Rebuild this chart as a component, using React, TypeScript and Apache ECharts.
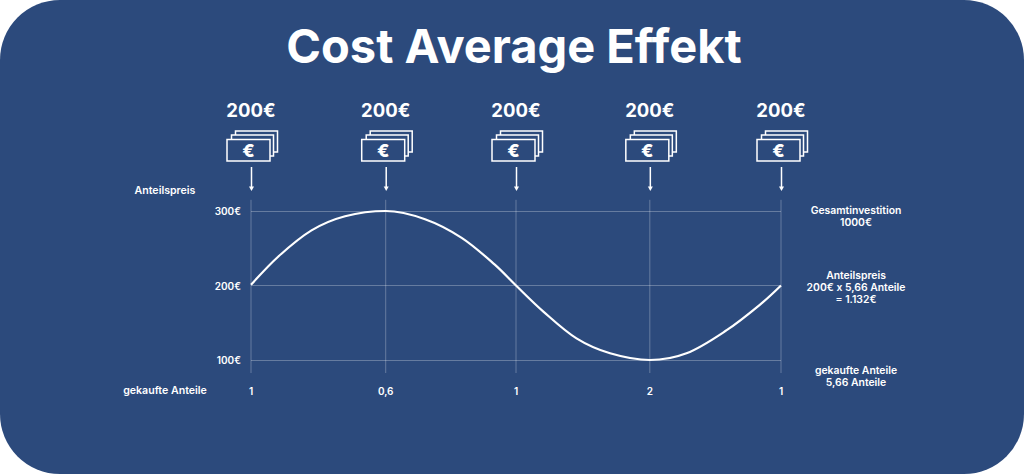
import React, { useEffect, useRef } from "react";
import * as echarts from "echarts";

const TITLE = "Cost Average Effekt";
const INVEST_LABEL = "200€";
const buyMonths = [0, 3.05, 6, 9.03, 12];
const sharesBought = ["1", "0,6", "1", "2", "1"];
const priceTicks = [100, 200, 300];
const curveMonths = [0, 0.62, 1.37, 2.13, 3.05, 3.94, 4.77, 5.52, 6, 6.62, 7.37, 8.13, 9.03, 9.86, 10.77, 11.52, 12];
const curvePrices = [201, 239, 274, 293, 300, 289, 264, 228, 200, 165, 129, 109, 100, 109, 140, 174, 200];
const guideExtent = [315, 82.5];
const leftNotes = [
  { text: "Anteilspreis", x: 165, y: 190 },
  { text: "gekaufte Anteile", x: 165, y: 390 },
];
const rightNotes = [
  { text: "Gesamtinvestition\n1000€", y: 216 },
  { text: "Anteilspreis\n200€ x 5,66 Anteile\n= 1.132€", y: 287 },
  { text: "gekaufte Anteile\n5,66 Anteile", y: 376 },
];

const BG = "#2C4A7C";
const FONT = "Inter";
const GRID = "rgba(255,255,255,0.28)";

export default function App() {
  const ref = useRef<HTMLDivElement>(null);
  useEffect(() => {
    document.body.style.margin = "0";
    const chart = echarts.init(ref.current!, undefined, { renderer: "svg" });
    const pairs = curveMonths.map((m, i) => [m, curvePrices[i]]);
    chart.setOption({
      animation: false,
      backgroundColor: "#ffffff",
      grid: { left: 251, top: 211, width: 530, height: 149, containLabel: false },
      xAxis: {
        type: "value",
        min: 0,
        max: 12,
        axisLine: { show: false },
        axisTick: { show: false },
        splitLine: { show: false },
        axisLabel: {
          customValues: buyMonths,
          color: "#fff",
          fontFamily: FONT,
          fontWeight: 600,
          fontSize: 10,
          margin: 26,
          formatter: (v: number) => sharesBought[buyMonths.indexOf(v)] ?? "",
        },
      },
      yAxis: {
        type: "value",
        min: 100,
        max: 300,
        interval: 100,
        axisLine: { show: false },
        axisTick: { show: false },
        splitLine: { show: true, lineStyle: { color: GRID, width: 1 } },
        axisLabel: {
          color: "#fff",
          fontFamily: FONT,
          fontWeight: 600,
          fontSize: 10,
          margin: 10,
          formatter: (v: number) => (priceTicks.includes(v) ? `${v}€` : ""),
        },
      },
      graphic: [
        { type: "rect", z: -10, silent: true, shape: { x: 0, y: 0, width: 1024, height: 474, r: 60 }, style: { fill: BG } },
        {
          type: "text", x: 514, y: 45, z: 10,
          style: { text: TITLE, fill: "#fff", font: `700 47px ${FONT}`, textAlign: "center", textVerticalAlign: "middle" },
        },
        ...leftNotes.map((n) => ({
          type: "text", x: n.x, y: n.y, z: 10,
          style: { text: n.text, fill: "#fff", font: `600 10.6px ${FONT}`, textAlign: "center", textVerticalAlign: "middle" },
        })),
        ...rightNotes.map((n) => ({
          type: "text", x: 856, y: n.y, z: 10,
          style: { text: n.text, fill: "#fff", font: `600 10.4px ${FONT}`, lineHeight: 12, textAlign: "center", textVerticalAlign: "middle" },
        })),
      ],
      series: [
        {
          type: "custom",
          data: buyMonths.map((m) => [m]),
          clip: false,
          silent: true,
          z: 1,
          renderItem: (_p: any, api: any) => {
            const top = api.coord([api.value(0), guideExtent[0]]);
            const bottom = api.coord([api.value(0), guideExtent[1]]);
            return {
              type: "line",
              shape: { x1: top[0], y1: top[1], x2: bottom[0], y2: bottom[1] },
              style: { stroke: GRID, lineWidth: 1 },
            };
          },
        },
        {
          type: "line",
          data: pairs,
          smooth: 0.33,
          symbol: "none",
          clip: false,
          z: 5,
          lineStyle: { color: "#fff", width: 2.2 },
        },
        {
          type: "custom",
          data: buyMonths.map((m) => [m, 300]),
          clip: false,
          silent: true,
          z: 6,
          renderItem: (_p: any, api: any) => {
            const x = api.coord([api.value(0), api.value(1)])[0];
            const stroke = { stroke: "#fff", lineWidth: 1.5, fill: "none" };
            return {
              type: "group",
              x,
              y: 0,
              children: [
                { type: "text", style: { x: 0, y: 110, text: INVEST_LABEL, fill: "#fff", font: `700 18.5px ${FONT}`, textAlign: "center", textVerticalAlign: "middle" } },
                { type: "polyline", shape: { points: [[-15.5, 135], [-15.5, 131], [26.5, 131], [26.5, 152], [22.5, 152]] }, style: stroke },
                { type: "polyline", shape: { points: [[-19.5, 139], [-19.5, 135], [22.5, 135], [22.5, 156], [19, 156]] }, style: stroke },
                { type: "rect", shape: { x: -24, y: 139.5, width: 43, height: 21.5 }, style: stroke },
                { type: "text", style: { x: -2.5, y: 150.5, text: "€", fill: "#fff", font: `800 18px ${FONT}`, textAlign: "center", textVerticalAlign: "middle" } },
                { type: "line", shape: { x1: 0.5, y1: 167, x2: 0.5, y2: 188 }, style: { stroke: "#fff", lineWidth: 1.5 } },
                { type: "polygon", shape: { points: [[-2, 186.5], [3, 186.5], [0.5, 191]] }, style: { fill: "#fff" } },
              ],
            };
          },
        },
      ],
    });
    return () => chart.dispose();
  }, []);
  return <div ref={ref} style={{ width: 1024, height: 474 }} />;
}
